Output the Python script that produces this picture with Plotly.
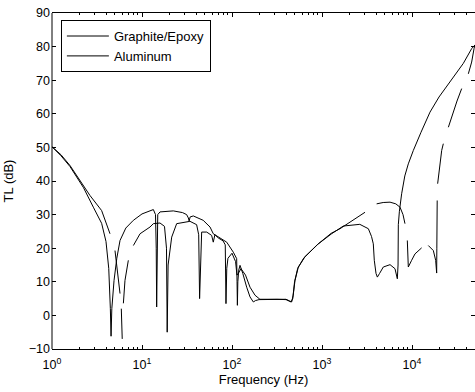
import plotly.graph_objects as go

# ---- data (frequency in Hz, transmission loss in dB) ----
graphite_f = [1, 1.26, 1.585, 2.04, 2.24, 2.88, 3.56, 3.98, 4.27, 4.45, 4.53, 4.62, 4.89, 5.25, 5.70,
              6.61, 8.02, 10, 12.27, 13.37, 14.13, 14.39, 14.55, 14.72, 14.96, 15.85, 22.28, 28.18,
              31.33, 32.73, 33.42, 34.28, 37.15, 47.86, 57.02, 61.94, 64.57, 74.13, 87.30, 103.5,
              112.7, 113.8, 114.8, 116.1, 118.9, 122.7, 131.8, 145.6, 158.5, 172.6, 182.0, 199.5,
              251.2, 316.2, 398.1, 436.5, 460.3, 478.6, 501.2, 545.8, 645.7, 909.9, 1279, 1726,
              2046, 2630, 3273, 3548, 3715, 3811, 3981, 4121, 4365, 4797, 5702, 6471, 6871, 6998,
              7047, 7244, 7674, 8318, 9099, 10351, 12589, 15849, 19953, 25119, 31623, 37154,
              46026, 50119]
graphite_tl = [50.2, 47.5, 44.3, 39.7, 38.0, 32.2, 27.4, 22.0, 14.0, 2.0, -6.2, 2.0, 10.4, 17.0, 22.3,
               26.0, 28.3, 30.2, 31.2, 31.5, 30.0, 20.0, 2.5, 20.0, 30.0, 30.8, 31.1, 30.6,
               30.0, 29.0, 28.1, 29.3, 29.6, 28.3, 26.3, 24.3, 24.0, 22.8, 21.8, 18.8,
               16.9, 10.0, 3.0, 10.0, 13.5, 14.9, 12.5, 8.4, 5.5, 4.0, 4.4, 4.7,
               4.8, 4.9, 4.8, 4.3, 4.0, 6.0, 10.4, 14.4, 17.4, 21.3, 24.3, 26.6,
               26.8, 27.1, 25.8, 23.5, 21.3, 16.4, 12.5, 11.4, 12.5, 14.4, 15.1, 13.9, 10.9, 15.0,
               27.0, 31.0, 36.2, 41.5, 45.1, 49.1, 54.5, 60.5, 65.0, 68.8, 72.3, 75.0,
               79.4, 80.5]

aluminum_f = [1, 1.26, 1.585, 2.04, 2.64, 3.56, 4.41, None, 5.01, 5.70, None, 5.89, 6.03, None,
              6.21, 6.47, 7.05, None, 8.02, 9.51, 12.27, 13.37, 15.85, 17.78, 18.71, 19.05, 19.50,
              21.38, 24.27, 34.12, 40.46, 42.66, 43.65, 44.67, 46.03, 52.36, 59.43, 61.94, 64.57,
              70.79, 79.43, 84.14, 85.70, 87.5, 90.16, 100, 109.6, 113.5, 117.5, 125.9, 141.3,
              158.5, 180.3, 204.2, 251.2, 316.2, 398.1, 451.9, 473.2, 495.5, 537.0, 631.0, 891.3,
              1259, 1585, 3006, None, 4046, 4786, 5702, 6607, 7362, 7943, 8356, None, 8872, 9099,
              9908, 10789, 12794, None, 15171, 17258, 18323, 18793, 18880, 19055, None, 19275,
              20464, 21380, 22284, None, 25351, 28184, 31623, 35645, None, 42267, 46026, 48978,
              50119]
aluminum_tl = [50.2, 47.8, 44.6, 40.0, 35.7, 31.2, 24.3, None, 19.3, 6.5, None, 2.0, -7.0, None,
               3.6, 10.4, 16.4, None, 20.8, 24.3, 26.3, 27.3, 27.5, 26.5, 20.0, -5.0, 15.0,
               23.3, 27.3, 28.0, 27.0, 24.0, 5.0, 18.0, 24.8, 24.8, 23.8, 21.8, 24.0,
               23.0, 22.2, 21.0, 3.5, 14.0, 17.0, 18.5, 16.0, 12.0, 12.5, 13.9, 12.0,
               8.4, 6.0, 4.8, 4.7, 4.8, 4.7, 4.0, 5.0, 10.0, 14.0, 17.2, 21.1,
               24.4, 25.8, 30.7, None, 33.2, 33.6, 33.7, 33.2, 32.2, 30.0, 27.3, None, 22.3, 14.4,
               16.4, 18.3, 20.1, None, 20.8, 19.3, 16.4, 12.6, 20.0, 34.2, None, 39.2,
               46.1, 49.1, 51.1, None, 56.0, 60.0, 63.8, 67.5, None, 71.9, 75.4, 79.5,
               80.5]

x_tick_vals = [1, 10, 100, 1000, 10000]
x_tick_text = ["10<sup>0</sup>", "10<sup>1</sup>", "10<sup>2</sup>", "10<sup>3</sup>", "10<sup>4</sup>"]
x_minor_vals = [m * 10 ** e for e in range(5) for m in range(2, 10)]

FONT = "Arial, Liberation Sans, sans-serif"

fig = go.Figure()
fig.add_trace(go.Scatter(x=graphite_f, y=graphite_tl, mode="lines", name="Graphite/Epoxy",
                         line=dict(color="black", width=1), connectgaps=False))
fig.add_trace(go.Scatter(x=aluminum_f, y=aluminum_tl, mode="lines", name="Aluminum",
                         line=dict(color="black", width=1), connectgaps=False))

fig.update_layout(
    width=475, height=392,
    margin=dict(l=52, r=0, t=13, b=43),
    paper_bgcolor="white", plot_bgcolor="white",
    font=dict(family=FONT, size=12, color="black"),
    showlegend=True,
    legend=dict(x=0.021, y=0.979, xanchor="left", yanchor="top",
                bordercolor="black", borderwidth=1, bgcolor="white",
                font=dict(family=FONT, size=13, color="black"),
                itemwidth=42, tracegroupgap=0),
    shapes=[dict(type="line", xref="paper", yref="paper", x0=0, x1=0, y0=0, y1=1,
                 line=dict(color="black", width=1))],
)
fig.update_xaxes(type="log", range=[0, 4.7], tickmode="array", tickvals=x_tick_vals,
                 ticktext=x_tick_text, ticks="inside", ticklen=4, tickcolor="black",
                 showline=True, linecolor="black", linewidth=1, mirror="ticks",
                 showgrid=False, zeroline=False, tickfont=dict(size=12.5),
                 ticklabelstandoff=4,
                 minor=dict(tickmode="array", tickvals=x_minor_vals, ticks="inside",
                            ticklen=2, tickcolor="black", showgrid=False),
                 title=dict(text="Frequency (Hz)", standoff=2, font=dict(size=13)))
fig.update_yaxes(range=[-10, 90], dtick=10, tick0=0, ticks="inside", ticklen=4,
                 tickcolor="black", showline=False, mirror="ticks",
                 showgrid=False, zeroline=False, tickfont=dict(size=12.5),
                 ticklabelstandoff=1,
                 title=dict(text="TL (dB)", standoff=12, font=dict(size=13)))

fig.write_html("out.html")
